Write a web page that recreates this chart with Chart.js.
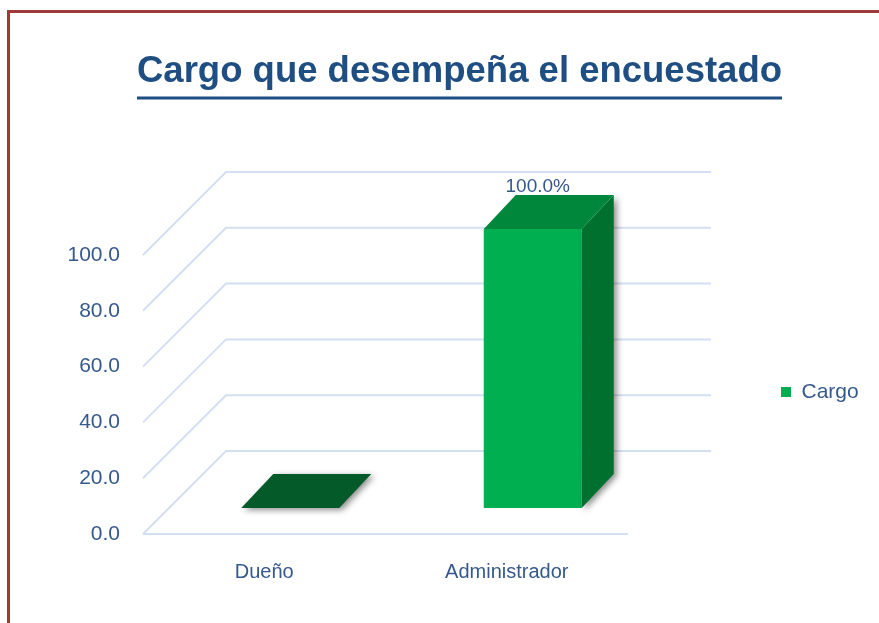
<!DOCTYPE html>
<html>
<head>
<meta charset="utf-8">
<script src="https://cdn.jsdelivr.net/npm/chart.js@4.4.1/dist/chart.umd.min.js"></script>
<style>
html,body{margin:0;padding:0;background:#ffffff;overflow:hidden}
#wrap{position:relative;width:879px;height:623px}
canvas{display:block}
</style>
</head>
<body>
<div id="wrap"><canvas id="c" width="879" height="623"></canvas></div>
<script>
// ---- data ----
const categories = ['Dueño', 'Administrador'];
const seriesName = 'Cargo';
const cargoValues = [0, 100];
const yTickValues = [0, 20, 40, 60, 80, 100];
const titleText = 'Cargo que desempeña el encuestado';

// ---- style ----
const FONT = "'Liberation Sans', Arial, sans-serif";
const TITLE_COLOR = '#1F4E82';
const LABEL_COLOR = '#35598C';
const GRID_COLOR = '#D3DFF3';
const FRONT = 26;   // bar plane -> front plane offset
const BACK = 57;    // bar plane -> back wall offset
const BDX = 32, BDY = 34; // bar depth
const FRONT_FILL = '#00B050', TOP_FILL = '#00873C', SIDE_FILL = '#00702F', FLAT_FILL = '#055A2A';

function poly(ctx, pts) {
  ctx.beginPath();
  ctx.moveTo(pts[0][0], pts[0][1]);
  for (let i = 1; i < pts.length; i++) ctx.lineTo(pts[i][0], pts[i][1]);
  ctx.closePath();
  ctx.fill();
}

const threeD = {
  id: 'threeD',
  beforeDraw(chart) {
    const ctx = chart.ctx;
    ctx.save();
    ctx.fillStyle = '#9E3A37';
    ctx.fillRect(7, 10, 3, chart.height - 10);
    ctx.fillRect(7, 10, chart.width - 7, 3);
    ctx.restore();
  },
  beforeDatasetsDraw(chart) {
    const {ctx, chartArea, scales} = chart;
    const y = scales.y;
    const {left, right} = chartArea;
    ctx.save();
    ctx.strokeStyle = GRID_COLOR;
    ctx.lineWidth = 2;
    y.ticks.forEach(t => {
      const py = y.getPixelForValue(t.value);
      ctx.beginPath();
      ctx.moveTo(left - FRONT, py + FRONT);
      ctx.lineTo(left + BACK, py - BACK);
      ctx.lineTo(right + BACK, py - BACK);
      ctx.stroke();
    });
    const p0 = y.getPixelForValue(0);
    ctx.beginPath();
    ctx.moveTo(left - FRONT, p0 + FRONT);
    ctx.lineTo(right - FRONT, p0 + FRONT);
    ctx.stroke();
    ctx.restore();
  },
  afterDatasetsDraw(chart) {
    const ctx = chart.ctx;
    const meta = chart.getDatasetMeta(0);
    const values = chart.data.datasets[0].data;
    meta.data.forEach((bar, i) => {
      const {x, y: top, base, width} = bar.getProps(['x', 'y', 'base', 'width'], true);
      const L = x - width / 2, R = x + width / 2;
      const flat = Math.abs(base - top) < 1;
      ctx.save();
      ctx.shadowColor = 'rgba(0,0,0,0.45)';
      ctx.shadowBlur = 6;
      ctx.shadowOffsetX = 3;
      ctx.shadowOffsetY = 2;
      if (flat) {
        ctx.fillStyle = FLAT_FILL;
        poly(ctx, [[L, base], [R, base], [R + BDX, base - BDY], [L + BDX, base - BDY]]);
      } else {
        ctx.fillStyle = SIDE_FILL;
        poly(ctx, [[R, top], [R + BDX, top - BDY], [R + BDX, base - BDY], [R, base]]);
        ctx.shadowColor = 'transparent';
        ctx.fillStyle = TOP_FILL;
        poly(ctx, [[L, top], [R, top], [R + BDX, top - BDY], [L + BDX, top - BDY]]);
      }
      ctx.restore();
      if (values[i] > 0) {
        ctx.save();
        ctx.fillStyle = LABEL_COLOR;
        ctx.font = "19px " + FONT;
        ctx.textAlign = 'center';
        ctx.textBaseline = 'middle';
        ctx.fillText(values[i].toFixed(1) + '%', x + 5, top - 42);
        ctx.restore();
      }
    });
  },
  afterDraw(chart) {
    const tb = chart.titleBlock;
    if (!tb) return;
    const ctx = chart.ctx;
    const opts = chart.options.plugins.title;
    ctx.save();
    ctx.font = 'bold ' + opts.font.size + 'px ' + FONT;
    const w = ctx.measureText(opts.text).width;
    const cx = (tb.left + tb.right) / 2;
    ctx.strokeStyle = TITLE_COLOR;
    ctx.lineWidth = 3;
    ctx.beginPath();
    ctx.moveTo(cx - w / 2, 98);
    ctx.lineTo(cx + w / 2, 98);
    ctx.stroke();
    ctx.restore();
  }
};

new Chart(document.getElementById('c'), {
  type: 'bar',
  data: {
    labels: categories,
    datasets: [{
      label: seriesName,
      data: cargoValues,
      backgroundColor: FRONT_FILL,
      borderWidth: 0,
      barPercentage: 0.404,
      categoryPercentage: 1.0
    }]
  },
  options: {
    responsive: false,
    animation: false,
    devicePixelRatio: 1,
    layout: { padding: { left: 52, right: 12, top: 0, bottom: 0 } },
    plugins: {
      title: {
        display: true,
        text: titleText,
        color: TITLE_COLOR,
        font: { family: FONT, size: 36.5, weight: 'bold', lineHeight: 1.2 },
        padding: { top: 50, bottom: 135.2 }
      },
      legend: {
        position: 'right',
        fullSize: false,
        maxWidth: 213,
        title: { display: true, text: '', padding: { top: 35, bottom: 0 }, font: { size: 10, lineHeight: 1.2 } },
        labels: {
          boxWidth: 10,
          boxHeight: 10,
          padding: 127,
          color: LABEL_COLOR,
          font: { family: FONT, size: 21 }
        }
      },
      tooltip: { enabled: false }
    },
    scales: {
      x: {
        grid: { display: false, drawTicks: false },
        border: { display: false },
        afterFit: s => { s.height = 115; },
        ticks: { padding: 52, labelOffset: -26, maxRotation: 0, color: LABEL_COLOR, font: { family: FONT, size: 20 } }
      },
      y: {
        min: 0,
        max: 100,
        grid: { display: false, drawTicks: false },
        border: { display: false },
        afterBuildTicks: s => { s.ticks = yTickValues.map(v => ({ value: v })); },
        afterFit: s => { s.width = 117; },
        ticks: {
          padding: 49,
          labelOffset: 26,
          color: LABEL_COLOR,
          font: { family: FONT, size: 21 },
          callback: v => Number(v).toFixed(1)
        }
      }
    }
  },
  plugins: [threeD]
});
</script>
</body>
</html>
